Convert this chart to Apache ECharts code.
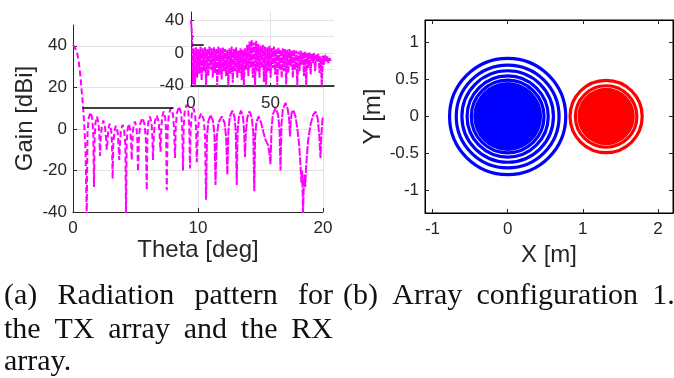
<!DOCTYPE html>
<html><head><meta charset="utf-8">
<script src="https://cdn.jsdelivr.net/npm/echarts@6/dist/echarts.min.js"></script>
<style>html,body{margin:0;padding:0;background:#fff}#c{width:674px;height:378px}</style>
</head><body><div id="c"></div>
<script>
// ---------- data ----------
const mainThetaTicks = [0, 10, 20];
const mainGainTicks = [-40, -20, 0, 20, 40];
const insetThetaTicks = [0, 50];
const insetGainTicks = [-40, -20, 0, 20, 40];
const insetGainLabels = [-40, 0, 40];
const xTicks = [-1, 0, 1, 2];
const yTicks = [-1, -0.5, 0, 0.5, 1];

// radiation pattern (theta deg, gain dBi)
const patternDashed = [
  [0,40.5],[0.15,40],[0.3,37.5],[0.45,33],[0.6,25],[0.7,18],[0.8,11],[0.9,2],[1.0,-10],[1.1,-42],
  [1.16,-2],[1.25,5],[1.4,8],[1.54,5],[1.62,-2],[1.68,-28],
  [1.73,-4],[1.8,3],[1.92,6],[2.04,3],[2.11,-3],[2.16,-13],
  [2.21,-5],[2.3,1],[2.43,4],[2.56,1],[2.65,-5],[2.7,-10],
  [2.75,-7],[2.82,-0.5],[2.93,2.5],[3.05,-0.5],[3.12,-7],[3.17,-24],
  [3.22,-8],[3.3,-1.5],[3.43,1.5],[3.57,-1.5],[3.65,-8],[3.7,-15],
  [3.75,-8],[3.83,-1],[3.97,2],[4.1,-1],[4.19,-8],[4.24,-42],
  [4.29,-7],[4.36,-0.5],[4.47,2.5],[4.58,-0.5],[4.65,-7],[4.7,-15],
  [4.75,-6],[4.82,0.5],[4.95,3.5],[5.08,0.5],[5.15,-6],[5.2,-20.5],
  [5.27,-5],[5.37,2.3],[5.55,5.3],[5.72,2.3],[5.83,-5],[5.9,-29.5],
  [5.95,-4],[6.02,3],[6.15,6],[6.28,3],[6.35,-4],[6.4,-15],
  [6.46,-3.5],[6.55,3.5],[6.7,6.5],[6.85,3.5],[6.94,-3.5],[7.0,-11],
  [7.05,-1.5],[7.12,5.4],[7.25,8.4],[7.38,5.4],[7.45,-1.5],[7.5,-29.5],
  [7.57,0],[7.67,7],[7.83,10],[8.0,7],[8.09,0],[8.16,-14],
  [8.22,1],[8.32,7.8],[8.48,10.8],[8.64,7.8],[8.74,1],[8.8,-20],
  [8.86,1.5],[8.94,8.6],[9.08,11.6],[9.22,8.6],[9.3,1.5],[9.36,-19],
  [9.41,0],[9.5,7],[9.63,10],[9.77,7],[9.85,0],[9.9,-16],
  [9.97,-2.4],[10.08,4.6],[10.25,7.6],[10.45,4.6],[10.56,-2.4],[10.64,-34]
];
const patternSolid = [
  [10.64,-34],
  [10.72,-3.3],[10.83,3.7],[11.0,6.7],[11.2,3.7],[11.32,-3.3],[11.4,-27],
  [11.5,-4],[11.64,3],[11.9,6],[12.12,3],[12.25,-4],[12.35,-22],
  [12.43,-1.2],[12.54,5.8],[12.75,8.8],[12.92,5.8],[13.02,-1.2],[13.1,-27],
  [13.17,-1.2],[13.27,5.8],[13.44,8.8],[13.6,5.8],[13.69,-1.2],[13.76,-13.5],
  [13.83,-1.6],[13.94,5.4],[14.12,8.4],[14.3,5.4],[14.42,-1.6],[14.5,-30],
  [14.57,-4],[14.67,3],[14.85,6],[15.05,3],[15.25,-2],[15.4,-5.3],[15.6,-7.7],[15.72,-12],[15.8,-17],
  [15.88,0],[15.99,7],[16.2,10],[16.4,7],[16.52,0],[16.6,-20],
  [16.68,2.5],[16.79,9.5],[17.0,12.5],[17.18,9.5],[17.3,4],[17.36,-3.7],
  [17.42,4],[17.5,8],[17.62,9],[17.8,6],[17.95,0],[18.1,-8],[18.2,-18],[18.28,-26],[18.33,-20],[18.37,-30],[18.4,-42],
  [18.45,-30],[18.52,-22],[18.58,-28],[18.65,-18],[18.8,-6],[19.0,2],[19.2,6.5],[19.4,8.4],[19.58,5],[19.7,-3],[19.8,-14],
  [19.87,-3],[19.95,4],[20.0,6]
];
const insetPattern = [
  [0,40],[0.4,30],[0.8,10],[1.2,-38],[1.8,6],[2.5,-40],[3.2,7],[3.9,-30],[4.6,5],[5.3,-25],[6.0,8],[6.7,-33],
  [7.4,6],[8.1,-22],[8.8,7],[9.5,-40],[10.2,5],[10.9,-28],[11.6,8],[12.3,-20],[13.0,6],[13.7,-30],[14.4,7],
  [15.1,-24],[15.8,5],[16.5,-40],[17.2,8],[17.9,-26],[18.6,6],[19.3,-32],[20.0,7],[20.7,-22],[21.4,5],[22.1,-28],
  [22.8,4],[23.5,-40],[24.2,6],[24.9,-25],[25.6,8],[26.3,-36],[27.0,5],[27.7,-22],[28.4,7],[29.1,-30],[29.8,3],
  [30.5,-24],[31.2,6],[31.9,-33],[32.6,4],[33.3,-40],[34.0,6],[34.7,-20],[35.4,10],[36.1,-28],[36.8,14],[37.5,-18],
  [38.2,16],[38.9,-30],[39.6,13],[40.3,-40],[41.0,15],[41.7,-22],[42.4,11],[43.1,-30],[43.8,9],[44.5,-18],[45.2,10],
  [45.9,-35],[46.6,8],[47.3,-40],[48.0,7],[48.7,-22],[49.4,9],[50.1,-30],[50.8,6],[51.5,-18],[52.2,8],[52.9,-26],
  [53.6,5],[54.3,-40],[55.0,7],[55.7,-20],[56.4,4],[57.1,-30],[57.8,6],[58.5,-22],[59.2,5],[59.9,-38],[60.6,4],
  [61.3,-24],[62.0,5],[62.7,-16],[63.4,3],[64.1,-30],[64.8,4],[65.5,-20],[66.2,3],[66.9,-40],[67.6,2],[68.3,-22],
  [69.0,3],[69.7,-14],[70.4,1],[71.1,-28],[71.8,2],[72.5,-40],[73.2,0],[73.9,-18],[74.6,1],[75.3,-26],[76.0,-1],
  [76.7,-12],[77.4,0],[78.1,-22],[78.8,-2],[79.5,-10],[80.2,-1],[80.9,-24],[81.6,-4],[82.3,-40],[83.0,-3],
  [83.7,-14],[84.4,-2],[85.1,-10],[85.8,-4],[86.5,-12],[87.2,-6],[88.0,-10]
];
const maskLine = [[0.75, 10], [8.05, 10]];

// array configuration: ring radii (m) and centres
const txCenter = [0, 0];
const txRings = [0.773, 0.684, 0.609, 0.54, 0.484];
const txCore = [0.458];
const rxCenter = [1.31, 0];
const rxRings = [0.48, 0.409];
const rxCore = [0.382];

// captions
const captionA = [
  ['(a)', 'Radiation', 'pattern', 'for'],
  ['the', 'TX', 'array', 'and', 'the', 'RX'],
  ['array.']
];
const captionB = [['(b)', 'Array', 'configuration', '1.']];

// ---------- chart ----------
const AX = '#262626', GRID = '#e3e3e3', MAG = '#ff00ff';
const sans = 'Liberation Sans, Arial, Helvetica, sans-serif';
const tickFont = 17, titleFont = 24;

function ringRender(color, width) {
  return function (params, api) {
    const c = api.coord([api.value(0), api.value(1)]);
    const r = api.size([api.value(2), 0])[0];
    return { type: 'circle', shape: { cx: c[0], cy: c[1], r: r },
      style: { fill: 'none', stroke: color, lineWidth: width } };
  };
}
function coreRender(color) {
  return function (params, api) {
    const c = api.coord([api.value(0), api.value(1)]);
    const r = api.size([api.value(2), 0])[0];
    return { type: 'circle', shape: { cx: c[0], cy: c[1], r: r }, style: { fill: color, stroke: 'none' } };
  };
}
const ringData = (ctr, radii) => radii.map(r => [ctr[0], ctr[1], r]);

// caption layout (LaTeX-like justified paragraph)
const captionFont = '30px "Liberation Serif", "Times New Roman", serif';
const mctx = document.createElement('canvas').getContext('2d');
mctx.font = captionFont;
const spaceW = mctx.measureText(' ').width;
const graphics = [];
function placeLine(words, x0, x1, y, justify, gapScale) {
  const ws = words.map(w => mctx.measureText(w).width);
  const total = ws.reduce((a, b) => a + b, 0);
  const gap = (justify && words.length > 1) ? (x1 - x0 - total) / (words.length - 1) : spaceW * gapScale;
  let x = x0;
  words.forEach((w, i) => {
    graphics.push({ type: 'text', x: x, y: y, style: { text: w, font: captionFont, fill: '#111', align: 'left', verticalAlign: 'middle' } });
    x += ws[i] + gap;
  });
}
const lineYs = [296, 330, 362];
placeLine(captionA[0], 4, 333, lineYs[0], true);
placeLine(captionA[1], 4, 333, lineYs[1], true);
placeLine(captionA[2], 4, 333, lineYs[2], false, 1);
placeLine(captionB[0], 343, 674, lineYs[0], false, 1.9);

const lbl = { color: AX, fontFamily: sans, fontSize: tickFont };
const nameStyle = { color: AX, fontFamily: sans, fontSize: titleFont };
const insetRect = { left: 191, top: 12, width: 143, height: 74 };

const option = {
  animation: false,
  backgroundColor: '#fff',
  graphic: graphics,
  grid: [
    { left: 73, top: 25, width: 250, height: 187 },
    Object.assign({ show: true, backgroundColor: '#fff', borderWidth: 0, z: 5 }, insetRect),
    { left: 425, top: 20, width: 248, height: 193, show: true, borderColor: '#000', borderWidth: 1 },
    Object.assign({ show: false, z: 6 }, insetRect),
    Object.assign({ show: false, z: 6 }, insetRect)
  ],
  xAxis: [
    { gridIndex: 0, type: 'value', min: 0, max: 20, interval: 10,
      name: 'Theta [deg]', nameLocation: 'middle', nameGap: 20, nameTextStyle: nameStyle,
      axisLine: { onZero: false, lineStyle: { color: AX } },
      axisTick: { inside: true, length: 4, lineStyle: { color: AX }, customValues: mainThetaTicks },
      axisLabel: Object.assign({ margin: 8, customValues: mainThetaTicks }, lbl),
      splitLine: { show: true, lineStyle: { color: GRID } } },
    { gridIndex: 1, type: 'value', min: 0, max: 90, z: 6,
      axisLine: { onZero: false, lineStyle: { color: '#000', width: 1.5 } },
      axisTick: { inside: true, length: 3, lineStyle: { color: AX }, customValues: insetThetaTicks },
      axisLabel: { show: false },
      splitLine: { show: true, lineStyle: { color: GRID } } },
    { gridIndex: 2, type: 'value', min: -1.1, max: 2.2,
      name: 'X [m]', nameLocation: 'middle', nameGap: 18, nameTextStyle: nameStyle,
      axisLine: { onZero: false, lineStyle: { color: '#000' } },
      axisTick: { inside: true, length: 4, lineStyle: { color: AX }, customValues: xTicks },
      axisLabel: Object.assign({ margin: 8, customValues: xTicks }, lbl),
      splitLine: { show: false } },
    { gridIndex: 2, type: 'value', position: 'top', min: -1.1, max: 2.2,
      axisLine: { onZero: false, lineStyle: { color: '#000' } },
      axisTick: { inside: true, length: 4, lineStyle: { color: AX }, customValues: xTicks },
      axisLabel: { show: false }, splitLine: { show: false } },
    { gridIndex: 3, type: 'value', min: 0, max: 90, z: 7,
      axisLine: { show: false, onZero: false }, axisTick: { show: false },
      axisLabel: Object.assign({ margin: 9, customValues: insetThetaTicks }, lbl),
      splitLine: { show: false } },
    { gridIndex: 4, type: 'value', min: 0, max: 90, show: false }
  ],
  yAxis: [
    { gridIndex: 0, type: 'value', min: -40, max: 50,
      name: 'Gain [dBi]', nameLocation: 'middle', nameGap: 36, nameTextStyle: nameStyle,
      axisLine: { show: true, onZero: false, lineStyle: { color: AX } },
      axisTick: { show: true, inside: true, length: 4, lineStyle: { color: AX }, customValues: mainGainTicks },
      axisLabel: Object.assign({ margin: 6, customValues: mainGainTicks }, lbl),
      splitLine: { show: true, lineStyle: { color: GRID } } },
    { gridIndex: 1, type: 'value', min: -40, max: 50, z: 6,
      axisLine: { show: true, onZero: false, lineStyle: { color: AX } },
      axisTick: { show: true, inside: true, length: 3, lineStyle: { color: AX }, customValues: insetGainTicks },
      axisLabel: { show: false },
      splitLine: { show: true, lineStyle: { color: GRID } } },
    { gridIndex: 2, type: 'value', min: -1.3, max: 1.3,
      name: 'Y [m]', nameLocation: 'middle', nameGap: 38, nameTextStyle: nameStyle,
      axisLine: { show: true, onZero: false, lineStyle: { color: '#000' } },
      axisTick: { show: true, inside: true, length: 4, lineStyle: { color: AX }, customValues: yTicks },
      axisLabel: Object.assign({ margin: 6, customValues: yTicks }, lbl),
      splitLine: { show: false } },
    { gridIndex: 2, type: 'value', position: 'right', min: -1.3, max: 1.3,
      axisLine: { show: true, onZero: false, lineStyle: { color: '#000' } },
      axisTick: { show: true, inside: true, length: 4, lineStyle: { color: AX }, customValues: yTicks },
      axisLabel: { show: false }, splitLine: { show: false } },
    { gridIndex: 3, type: 'value', min: -40, max: 50, show: false },
    { gridIndex: 4, type: 'value', min: -40.6, max: 50, z: 7,
      axisLine: { show: false, onZero: false }, axisTick: { show: false },
      axisLabel: Object.assign({ margin: 7, customValues: insetGainLabels, showMinLabel: true, hideOverlap: false }, lbl),
      splitLine: { show: false } }
  ],
  series: [
    { type: 'line', xAxisIndex: 0, yAxisIndex: 0, data: patternDashed, showSymbol: false, symbol: 'none',
      lineStyle: { color: MAG, width: 2, type: [6, 3] } },
    { type: 'line', xAxisIndex: 0, yAxisIndex: 0, data: patternSolid, showSymbol: false, symbol: 'none',
      lineStyle: { color: MAG, width: 2, type: [8, 1.5] } },
    { type: 'line', xAxisIndex: 0, yAxisIndex: 0, data: maskLine, showSymbol: false, symbol: 'none',
      lineStyle: { color: '#000', width: 1.5 } },
    { type: 'line', xAxisIndex: 1, yAxisIndex: 1, data: insetPattern, showSymbol: false, symbol: 'none', z: 7,
      lineStyle: { color: MAG, width: 2, type: [6, 1] } },
    { type: 'line', xAxisIndex: 1, yAxisIndex: 1, data: maskLine, showSymbol: false, symbol: 'none', z: 8,
      lineStyle: { color: '#000', width: 1.5 } },
    { type: 'custom', xAxisIndex: 2, yAxisIndex: 2, renderItem: coreRender('#0000ff'), data: ringData(txCenter, txCore), encode: { x: 0, y: 1 } },
    { type: 'custom', xAxisIndex: 2, yAxisIndex: 2, renderItem: ringRender('#0000ff', 3.2), data: ringData(txCenter, txRings), encode: { x: 0, y: 1 } },
    { type: 'custom', xAxisIndex: 2, yAxisIndex: 2, renderItem: coreRender('#ff0000'), data: ringData(rxCenter, rxCore), encode: { x: 0, y: 1 } },
    { type: 'custom', xAxisIndex: 2, yAxisIndex: 2, renderItem: ringRender('#ff0000', 3.2), data: ringData(rxCenter, rxRings), encode: { x: 0, y: 1 } }
  ]
};
echarts.init(document.getElementById('c'), null, { renderer: 'canvas' }).setOption(option);
</script></body></html>
